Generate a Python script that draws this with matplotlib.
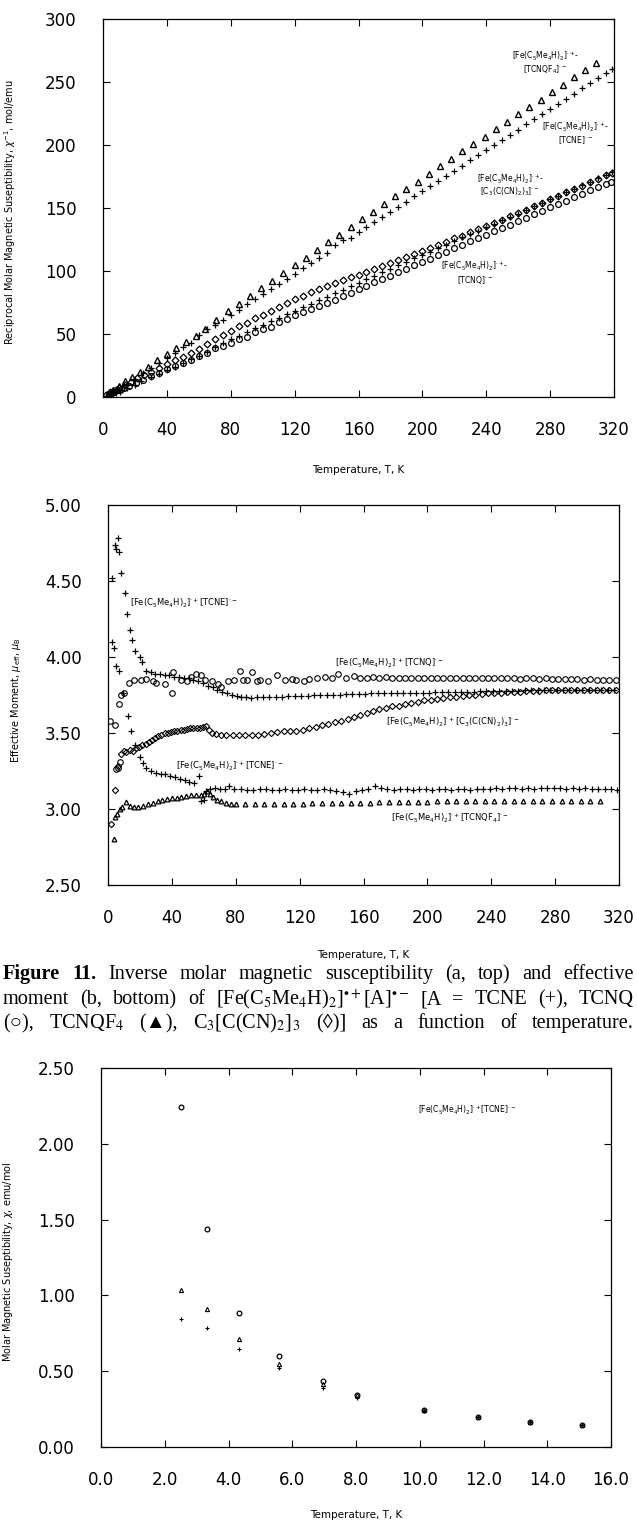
import matplotlib
matplotlib.use('Agg')
import matplotlib.pyplot as plt

plt.rcParams['font.family'] = ['DejaVu Sans']
plt.rcParams['mathtext.fontset'] = 'dejavusans'

W, H = 637, 1524

# ===== (a) top: reciprocal susceptibility, mol/emu =====
t_top_tcne_lo = [2, 5, 7, 10, 13, 15, 20, 25, 30, 35,
                 40, 45, 50, 55, 60, 65, 70, 75, 80, 85,
                 90, 95, 100, 105, 110, 115, 120, 125, 130, 135,
                 140, 145, 150, 155, 160, 165, 170, 175, 180, 185,
                 190, 195, 200, 205, 210, 215, 220, 225, 230, 235,
                 240, 245, 250, 255, 260, 265, 270, 275, 280, 285,
                 290, 295, 300, 305, 310, 315, 319]
inv_tcne_lo = [0.95, 2.43, 3.66, 5.69, 7.98, 9.74, 14.3, 18.7, 22.9, 26.8,
               31.1, 35.2, 39.3, 43.0, 49.0, 54.1, 57.2, 61.2, 65.3, 69.4,
               73.5, 77.6, 81.6, 85.7, 89.8, 93.9, 98.0, 102.1, 106.2, 110.2,
               114.3, 120.7, 124.9, 126.5, 130.6, 134.7, 138.8, 142.9, 147.0, 151.0,
               155.1, 159.2, 163.3, 167.4, 171.5, 175.5, 179.6, 183.7, 187.8, 191.9,
               196.0, 200.0, 204.1, 208.2, 212.3, 216.4, 220.4, 224.5, 228.6, 232.7,
               236.8, 240.8, 244.9, 249.0, 253.1, 257.2, 260.4]

t_top_tcne_hi = [2.5, 4.3, 6.3, 8.4, 10.4, 12.2, 15.3, 19.8, 24, 30,
                 35, 40, 45, 50, 55, 60, 65, 70, 75, 80,
                 85, 90, 95, 100, 105, 110, 115, 120, 125, 130,
                 135, 140, 145, 150, 155, 160, 165, 170, 175, 180,
                 185, 190, 195, 200, 205, 210, 215, 220, 225, 230,
                 235, 240, 245, 250, 255, 260, 265, 270, 275, 280,
                 285, 290, 295, 300, 305, 310, 315, 319]
inv_tcne_hi = [0.98, 1.53, 2.21, 3.25, 4.26, 5.33, 7.24, 9.9, 12.55, 15.9,
               18.6, 21.4, 24.0, 26.8, 29.8, 32.7, 36.0, 39.4, 42.7, 45.7,
               48.7, 51.8, 54.5, 57.2, 60.0, 62.9, 65.6, 68.4, 71.3, 74.0,
               76.8, 79.7, 82.5, 85.1, 87.9, 90.8, 93.4, 96.2, 99.0, 101.8,
               104.4, 107.2, 110.0, 112.8, 115.4, 118.2, 121.0, 123.9, 126.7, 129.5,
               131.9, 134.7, 137.5, 140.4, 143.2, 145.6, 148.4, 151.2, 154.0, 156.8,
               159.6, 162.4, 165.2, 168.0, 170.8, 173.5, 176.3, 178.6]

t_top_c3 = [2, 4.6, 6, 8, 10, 13.5, 17.5, 21.5, 25.5, 30,
            35, 40, 45, 50, 55, 60, 65, 70, 75, 80,
            85, 90, 95, 100, 105, 110, 115, 120, 125, 130,
            135, 140, 145, 150, 155, 160, 165, 170, 175, 180,
            185, 190, 195, 200, 205, 210, 215, 220, 225, 230,
            235, 240, 245, 250, 255, 260, 265, 270, 275, 280,
            285, 290, 295, 300, 305, 310, 315, 319]
inv_c3 = [1.78, 3.77, 4.46, 5.67, 7.0, 9.4, 12.1, 14.7, 17.2, 19.9,
          22.9, 26.0, 29.1, 32.1, 35.2, 38.2, 42.4, 46.0, 49.4, 52.7,
          56.0, 59.1, 62.4, 65.3, 68.4, 71.4, 74.4, 77.5, 80.3, 83.0,
          85.7, 88.4, 90.6, 92.9, 95.2, 97.1, 99.6, 101.8, 104.2, 106.6,
          108.7, 111.0, 113.6, 115.6, 118.2, 120.8, 123.3, 125.8, 128.0, 130.9,
          133.3, 135.8, 138.2, 140.7, 143.6, 146.0, 148.8, 151.6, 154.0, 156.8,
          159.6, 162.4, 165.2, 167.5, 170.3, 173.1, 175.9, 178.1]

t_top_tcnq = [4.3, 7, 10.2, 13, 16.5, 20.4, 25, 30, 35, 40,
              45, 50, 55, 60, 65, 70, 75, 80, 85, 90,
              95, 100, 105, 110, 115, 120, 125, 130, 135, 140,
              145, 150, 155, 160, 165, 170, 175, 180, 185, 190,
              195, 200, 205, 210, 215, 220, 225, 230, 235, 240,
              245, 250, 255, 260, 265, 270, 275, 280, 285, 290,
              295, 300, 305, 310, 315, 318]
inv_tcnq = [2.73, 4.1, 5.8, 7.1, 8.9, 11.0, 13.5, 16.4, 19.2, 22.6,
            24.3, 27.1, 29.1, 32.2, 35.3, 38.8, 40.7, 43.2, 45.9, 47.3,
            51.3, 54.2, 55.8, 59.4, 61.9, 64.8, 67.3, 69.8, 72.1, 75.0,
            76.7, 80.5, 82.6, 85.7, 88.4, 91.0, 93.7, 96.4, 99.1, 101.7,
            104.4, 107.1, 109.8, 112.8, 115.4, 118.1, 120.8, 123.5, 126.1, 128.8,
            131.5, 134.3, 136.9, 139.6, 142.2, 145.1, 147.7, 150.5, 153.1, 155.8,
            158.5, 161.3, 164.0, 166.7, 169.4, 171.0]

t_top_tcnqf4 = [3, 6, 10, 14, 18, 23, 28, 34, 40, 46,
                52, 58, 64, 71, 78, 85, 92, 99, 106, 113,
                120, 127, 134, 141, 148, 155, 162, 169, 176, 183,
                190, 197, 204, 211, 218, 225, 232, 239, 246, 253,
                260, 267, 274, 281, 288, 295, 302, 309]
inv_tcnqf4 = [2.7, 5.3, 8.8, 12.4, 15.9, 20.1, 24.2, 29.0, 33.8, 38.8,
              43.9, 48.8, 53.6, 61.5, 67.9, 74.0, 80.1, 86.2, 92.3, 98.4,
              104.5, 110.6, 116.7, 122.8, 128.9, 135.0, 141.1, 147.2, 153.3, 159.4,
              165.1, 171.0, 177.0, 183.0, 189.0, 194.9, 200.8, 206.7, 212.6, 218.4,
              224.3, 230.2, 236.0, 241.9, 247.8, 253.6, 259.4, 264.8]

# ===== (b) middle: effective moment, muB =====
t_mid_tcne_hi = [2.5, 4.3, 4.9, 6.3, 7.1, 8.4, 10.4, 12.2, 13.5, 15.3,
                 17.0, 19.8, 21.6, 24.0, 26.7, 29.5, 32.5, 35.5, 38.5, 41.5,
                 44.5, 47.5, 50.5, 53.5, 56.5, 59.5, 62.5, 65.5, 68.5, 71.5,
                 74.5, 77.5, 80.5, 83.5, 86.5, 89.5, 93, 97, 101, 105,
                 109, 113, 117, 121, 125, 129, 133, 137, 141, 145,
                 149, 153, 157, 161, 165, 169, 173, 177, 181, 185,
                 189, 193, 197, 201, 205, 209, 213, 217, 221, 225,
                 229, 233, 237, 241, 245, 249, 253, 257, 261, 265,
                 269, 273, 277, 281, 285, 289, 293, 297, 301, 305,
                 309, 313, 317]
mu_tcne_hi = [4.52, 4.74, 4.71, 4.78, 4.69, 4.55, 4.42, 4.28, 4.18, 4.11,
              4.04, 4.00, 3.97, 3.91, 3.90, 3.89, 3.89, 3.88, 3.88, 3.87,
              3.87, 3.86, 3.86, 3.85, 3.84, 3.83, 3.81, 3.80, 3.78, 3.77,
              3.76, 3.75, 3.745, 3.74, 3.735, 3.73, 3.735, 3.735, 3.74, 3.74,
              3.74, 3.745, 3.745, 3.745, 3.745, 3.75, 3.75, 3.75, 3.75, 3.75,
              3.755, 3.755, 3.755, 3.755, 3.76, 3.76, 3.76, 3.76, 3.76, 3.765,
              3.765, 3.765, 3.765, 3.765, 3.77, 3.77, 3.77, 3.77, 3.77, 3.77,
              3.77, 3.775, 3.775, 3.775, 3.775, 3.775, 3.775, 3.775, 3.78, 3.78,
              3.78, 3.78, 3.78, 3.78, 3.78, 3.78, 3.78, 3.78, 3.78, 3.78,
              3.78, 3.78, 3.78]

t_mid_tcne_lo = [2.5, 4.0, 5.0, 7.0, 9.5, 12.4, 14.5, 17.0, 19.8, 22.0,
                 24.0, 27.0, 30.0, 33.0, 36.0, 39.0, 42.0, 45.0, 48.0, 51.0,
                 54.0, 57.0, 58.5, 60.0, 61.5, 64.0, 67.0, 70.0, 73.0, 76.0,
                 79, 83, 87, 91, 95, 99, 103, 107, 111, 115,
                 119, 123, 127, 131, 135, 139, 143, 147, 151, 155,
                 159, 163, 167, 171, 175, 179, 183, 187, 191, 195,
                 199, 203, 207, 211, 215, 219, 223, 227, 231, 235,
                 239, 243, 247, 251, 255, 259, 263, 267, 271, 275,
                 279, 283, 287, 291, 295, 299, 303, 307, 311, 315,
                 319]
mu_tcne_lo = [4.10, 4.06, 3.94, 3.91, 3.76, 3.61, 3.51, 3.42, 3.34, 3.30,
              3.27, 3.25, 3.24, 3.23, 3.23, 3.22, 3.21, 3.20, 3.19, 3.18,
              3.17, 3.22, 3.05, 3.06, 3.12, 3.13, 3.14, 3.13, 3.13, 3.15,
              3.13, 3.13, 3.125, 3.125, 3.13, 3.13, 3.125, 3.125, 3.13, 3.125,
              3.125, 3.13, 3.125, 3.125, 3.13, 3.125, 3.12, 3.11, 3.10, 3.12,
              3.125, 3.13, 3.15, 3.14, 3.13, 3.125, 3.13, 3.13, 3.125, 3.13,
              3.13, 3.125, 3.13, 3.13, 3.125, 3.13, 3.13, 3.125, 3.13, 3.13,
              3.13, 3.135, 3.13, 3.135, 3.14, 3.13, 3.135, 3.13, 3.135, 3.14,
              3.135, 3.14, 3.13, 3.135, 3.13, 3.135, 3.13, 3.13, 3.13, 3.13,
              3.125]

t_mid_tcnq = [1.3, 4.3, 5.0, 6.4, 7.0, 7.6, 8.4, 10.2, 13.0, 16.5,
              20.4, 24.0, 28.0, 30.0, 35.6, 40.0, 41.0, 45.8, 49.6, 52.0,
              55.0, 58.5, 61.0, 65.0, 68.7, 70.5, 75.0, 79.0, 82.7, 84.7,
              87.0, 90.0, 93.0, 95.4, 100.0, 105.6, 111.0, 115.0, 118.0, 123.0,
              126, 131, 136, 140, 144, 149, 154, 158, 162, 166,
              170, 174, 178, 182, 186, 190, 194, 198, 202, 206,
              210, 214, 218, 222, 226, 230, 234, 238, 242, 246,
              250, 254, 258, 262, 266, 270, 274, 278, 282, 286,
              290, 294, 298, 302, 306, 310, 314, 318]
mu_tcnq = [3.58, 3.55, 3.26, 3.27, 3.69, 3.31, 3.75, 3.76, 3.83, 3.85,
           3.85, 3.855, 3.84, 3.83, 3.82, 3.76, 3.90, 3.85, 3.84, 3.87,
           3.89, 3.88, 3.85, 3.84, 3.82, 3.80, 3.84, 3.85, 3.91, 3.85,
           3.85, 3.90, 3.84, 3.85, 3.84, 3.88, 3.85, 3.855, 3.85, 3.845,
           3.855, 3.86, 3.87, 3.865, 3.89, 3.86, 3.875, 3.865, 3.865, 3.87,
           3.865, 3.87, 3.865, 3.865, 3.86, 3.865, 3.865, 3.86, 3.865, 3.865,
           3.86, 3.865, 3.865, 3.86, 3.865, 3.86, 3.86, 3.865, 3.86, 3.86,
           3.86, 3.86, 3.855, 3.86, 3.86, 3.855, 3.86, 3.855, 3.855, 3.855,
           3.855, 3.855, 3.85, 3.855, 3.85, 3.85, 3.85, 3.85]

t_mid_c3 = [2.0, 4.6, 6.0, 8.0, 10.0, 11.5, 13.5, 15.5, 17.5, 19.5,
            21.5, 23.5, 25.5, 27.5, 29.5, 31.5, 33.5, 35.5, 37.5, 39.5,
            41.5, 43.5, 45.5, 47.5, 49.5, 51.5, 53.5, 55.5, 57.5, 59.5,
            61.5, 63.0, 65.0, 67.5, 70.5, 74, 78, 82, 86, 90,
            94, 98, 102, 106, 110, 114, 118, 122, 126, 130,
            134, 138, 142, 146, 150, 154, 158, 162, 166, 170,
            174, 178, 182, 186, 190, 194, 198, 202, 206, 210,
            214, 218, 222, 226, 230, 234, 238, 242, 246, 250,
            254, 258, 262, 266, 270, 274, 278, 282, 286, 290,
            294, 298, 302, 306, 310, 314, 318]
mu_c3 = [2.90, 3.125, 3.28, 3.36, 3.38, 3.375, 3.39, 3.38, 3.40, 3.41,
         3.42, 3.43, 3.44, 3.455, 3.47, 3.48, 3.49, 3.50, 3.50, 3.505,
         3.51, 3.515, 3.52, 3.52, 3.525, 3.53, 3.53, 3.535, 3.535, 3.54,
         3.545, 3.52, 3.50, 3.495, 3.49, 3.485, 3.485, 3.485, 3.485, 3.49,
         3.49, 3.495, 3.50, 3.505, 3.51, 3.51, 3.515, 3.52, 3.53, 3.54,
         3.55, 3.56, 3.57, 3.58, 3.595, 3.605, 3.62, 3.63, 3.645, 3.655,
         3.665, 3.675, 3.68, 3.69, 3.70, 3.705, 3.715, 3.72, 3.725, 3.73,
         3.735, 3.74, 3.745, 3.75, 3.75, 3.755, 3.76, 3.76, 3.765, 3.77,
         3.77, 3.77, 3.775, 3.775, 3.775, 3.78, 3.78, 3.78, 3.78, 3.78,
         3.78, 3.78, 3.785, 3.785, 3.785, 3.785, 3.785]

t_mid_tcnqf4 = [3.8, 4.5, 5.5, 7.6, 9.0, 11.5, 14.0, 16.5, 19, 22,
                25, 28, 31, 34, 37, 40, 43, 46, 49, 52,
                55, 58, 60, 62, 64, 66, 68, 71, 74, 77,
                80, 86, 92, 98, 104, 110, 116, 122, 128, 134,
                140, 146, 152, 158, 164, 170, 176, 182, 188, 194,
                200, 206, 212, 218, 224, 230, 236, 242, 248, 254,
                260, 266, 272, 278, 284, 290, 296, 302, 308]
mu_tcnqf4 = [2.80, 2.95, 2.97, 3.00, 3.01, 3.045, 3.02, 3.01, 3.015, 3.02,
             3.03, 3.04, 3.05, 3.06, 3.065, 3.07, 3.075, 3.08, 3.085, 3.09,
             3.09, 3.095, 3.10, 3.12, 3.10, 3.08, 3.06, 3.05, 3.04, 3.035,
             3.03, 3.03, 3.03, 3.035, 3.035, 3.035, 3.035, 3.035, 3.04, 3.04,
             3.04, 3.04, 3.04, 3.04, 3.04, 3.045, 3.045, 3.045, 3.045, 3.045,
             3.045, 3.05, 3.05, 3.05, 3.05, 3.05, 3.05, 3.05, 3.05, 3.055,
             3.055, 3.055, 3.055, 3.055, 3.055, 3.055, 3.055, 3.055, 3.055]

# ===== bottom: molar susceptibility at low T, emu/mol =====
t_low = [2.52, 3.31, 4.34, 5.58, 6.98, 8.03, 10.13, 11.82, 13.46, 15.08]
chi_tcnq = [2.244, 1.441, 0.884, 0.600, 0.438, 0.344, 0.244, 0.199, 0.166, 0.145]
chi_tcnqf4 = [1.038, 0.912, 0.711, 0.545, 0.415, 0.340, 0.244, 0.199, 0.166, 0.145]
chi_tcne = [0.846, 0.782, 0.645, 0.521, 0.391, 0.325, 0.240, 0.197, 0.164, 0.143]

FE = r'[Fe(C$_5$Me$_4$H)$_2$]'


def px_axes(left, top, right, bottom):
    return fig.add_axes([left / W, 1 - bottom / H, (right - left) / W, (bottom - top) / H])


def style(ax, xticks, yticks, xfmt, yfmt):
    ax.set_xlim(xticks[0], xticks[-1])
    ax.set_ylim(yticks[0], yticks[-1])
    ax.set_xticks(xticks)
    ax.set_yticks(yticks)
    ax.set_xticklabels([xfmt.format(v) for v in xticks])
    ax.set_yticklabels([yfmt.format(v) for v in yticks])
    ax.tick_params(direction='in', length=5, width=0.8, top=True, right=True,
                   labelsize=12, colors='black')
    ax.tick_params(axis='y', pad=19)
    ax.tick_params(axis='x', pad=17)
    for s in ax.spines.values():
        s.set_linewidth(0.9)


fig = plt.figure(figsize=(W / 100, H / 100), dpi=100)

# ---- top panel
ax1 = px_axes(103, 19, 614, 397)
ax1.plot(t_top_tcnqf4, inv_tcnqf4, ls='none', marker='^', ms=3.8, mfc='none', mec='black', mew=1.0)
ax1.plot(t_top_tcne_lo, inv_tcne_lo, ls='none', marker='+', ms=5, mec='black', mew=0.9)
ax1.plot(t_top_c3, inv_c3, ls='none', marker='D', ms=3.5, mfc='none', mec='black', mew=0.9)
ax1.plot(t_top_tcne_hi, inv_tcne_hi, ls='none', marker='+', ms=5, mec='black', mew=0.9)
ax1.plot(t_top_tcnq, inv_tcnq, ls='none', marker='o', ms=4.2, mfc='none', mec='black', mew=0.9)
style(ax1, list(range(0, 321, 40)), list(range(0, 301, 50)), '{:d}', '{:d}')

lab = dict(fontsize=5.5, ha='center', va='center')
ax1.text(277, 270, FE + r'$^{\cdot+}$-', **lab)
ax1.text(277, 260, r'[TCNQF$_4$]$^{\cdot-}$', **lab)
ax1.text(296, 214, FE + r'$^{\cdot+}$-', **lab)
ax1.text(296, 204, r'[TCNE]$^{\cdot-}$', **lab)
ax1.text(255, 172.5, FE + r'$^{\cdot+}$-', **lab)
ax1.text(255, 162.7, r'[C$_3$(C(CN)$_2$)$_3$]$^{\cdot-}$', **lab)
ax1.text(233, 104, FE + r'$^{\cdot+}$-', **lab)
ax1.text(233, 93, r'[TCNQ]$^{\cdot-}$', **lab)

fig.text(358 / W, 1 - 470 / H, 'Temperature, T, K', fontsize=7.5, ha='center', va='center')
fig.text(10 / W, 1 - 212 / H, r'Reciprocal Molar Magnetic Suseptibility, $\chi^{-1}$, mol/emu',
         fontsize=7, rotation=90, ha='center', va='center')

# ---- middle panel
ax2 = px_axes(108, 505, 619, 885)
ax2.plot(t_mid_tcnqf4, mu_tcnqf4, ls='none', marker='^', ms=3.4, mfc='none', mec='black', mew=0.9)
ax2.plot(t_mid_tcne_lo, mu_tcne_lo, ls='none', marker='+', ms=4.5, mec='black', mew=0.9)
ax2.plot(t_mid_c3, mu_c3, ls='none', marker='D', ms=3.2, mfc='none', mec='black', mew=0.8)
ax2.plot(t_mid_tcne_hi, mu_tcne_hi, ls='none', marker='+', ms=4.5, mec='black', mew=0.9)
ax2.plot(t_mid_tcnq, mu_tcnq, ls='none', marker='o', ms=4, mfc='none', mec='black', mew=0.8)
style(ax2, list(range(0, 321, 40)), [2.5, 3.0, 3.5, 4.0, 4.5, 5.0], '{:d}', '{:.2f}')

lab2 = dict(fontsize=6, ha='left', va='center')
ax2.text(14, 4.35, FE + r'$^{\cdot+}$[TCNE]$^{\cdot-}$', **lab2)
ax2.text(142, 3.955, FE + r'$^{\cdot+}$[TCNQ]$^{\cdot-}$', **lab2)
ax2.text(174, 3.57, FE + r'$^{\cdot+}$[C$_3$(C(CN)$_2$)$_3$]$^{\cdot-}$', **lab2)
ax2.text(42.5, 3.28, FE + r'$^{\cdot+}$[TCNE]$^{\cdot-}$', **lab2)
ax2.text(177, 2.94, FE + r'$^{\cdot+}$[TCNQF$_4$]$^{\cdot-}$', **lab2)

fig.text(363 / W, 1 - 955 / H, 'Temperature, T, K', fontsize=7.5, ha='center', va='center')
fig.text(16 / W, 1 - 700 / H, r'Effective Moment, $\mu_{\rm eff}$, $\mu_{\rm B}$',
         fontsize=7, rotation=90, ha='center', va='center')

# ---- bottom panel
ax3 = px_axes(101, 1068, 611, 1447)
ax3.plot(t_low, chi_tcnq, ls='none', marker='o', ms=3.4, mfc='none', mec='black', mew=0.9)
ax3.plot(t_low, chi_tcnqf4, ls='none', marker='^', ms=3.0, mfc='none', mec='black', mew=0.8)
ax3.plot(t_low, chi_tcne, ls='none', marker='+', ms=3.0, mec='black', mew=0.8)
style(ax3, [0, 2, 4, 6, 8, 10, 12, 14, 16], [0, 0.5, 1.0, 1.5, 2.0, 2.5], '{:.1f}', '{:.2f}')
ax3.text(9.96, 2.22, FE + r'$^{\cdot+}$[TCNE]$^{\cdot-}$', fontsize=5.5, ha='left', va='center')

fig.text(356 / W, 1 - 1515 / H, 'Temperature, T, K', fontsize=7.5, ha='center', va='center')
fig.text(8 / W, 1 - 1262 / H, r'Molar Magnetic Suseptibility, $\chi$, emu/mol',
         fontsize=7, rotation=90, ha='center', va='center')

# ---- caption, justified line by line
cap_lines = [
    (979, [('Figure', True), ('11.', True), ('Inverse', False), ('molar', False),
           ('magnetic', False), ('susceptibility', False), ('(a,', False), ('top)', False),
           ('and', False), ('effective', False)]),
    (1004, [('moment', False), ('(b,', False), ('bottom)', False), ('of', False),
            (r'[Fe(C$_5$Me$_4$H)$_2$]$^{\bullet+}$[A]$^{\bullet-}$', False), ('[A', False),
            ('=', False), ('TCNE', False), ('(+),', False), ('TCNQ', False)]),
    (1028, [('(○),', False), (r'TCNQF$_4$', False), ('(▲),', False),
            (r'C$_3$[C(CN)$_2$]$_3$', False), ('(◊)]', False), ('as', False), ('a', False),
            ('function', False), ('of', False), ('temperature.', False)]),
]

renderer = fig.canvas.get_renderer()
for y_px, words in cap_lines:
    texts = []
    for w, bold in words:
        t = fig.text(0, 1 - y_px / H, w, fontsize=14.6,
                     family=['Liberation Serif', 'DejaVu Serif'],
                     fontweight='bold' if bold else 'normal',
                     math_fontfamily='stix', ha='left', va='baseline')
        texts.append(t)
    widths = [t.get_window_extent(renderer).width for t in texts]
    gap = (634 - 3 - sum(widths)) / (len(texts) - 1)
    x = 3
    for t, wd in zip(texts, widths):
        t.set_x(x / W)
        x += wd + gap

fig.savefig('out.png', dpi=100, facecolor='white')
plt.close(fig)
